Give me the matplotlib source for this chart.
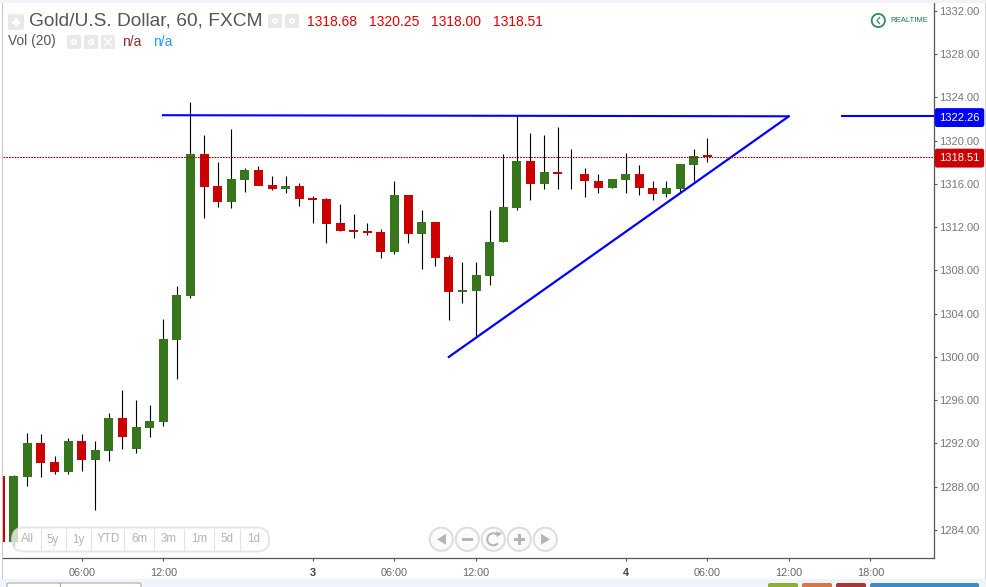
"""Gold/USD hourly candles with a hand drawn ascending triangle."""

import matplotlib
matplotlib.use("Agg")
import matplotlib.pyplot as plt
import numpy as np
from matplotlib.patches import Arc, Circle, FancyBboxPatch, Polygon, Rectangle

plt.rcParams["font.family"] = ["Liberation Sans", "DejaVu Sans"]

# candle index starts at -1, the half hidden candle on the left edge
opens = [1288.98, 1282.88, 1288.89, 1292.04, 1290.28, 1289.35, 1292.22, 1290.46, 1291.30, 1294.35,
         1291.48, 1293.42, 1293.98, 1301.57, 1305.64, 1318.77, 1315.81, 1314.33, 1316.37, 1317.29,
         1315.90, 1315.53, 1315.81, 1314.73, 1314.61, 1312.39, 1311.74, 1311.65, 1311.56, 1309.71,
         1314.98, 1311.37, 1312.48, 1309.24, 1306.01, 1306.10, 1307.49, 1310.63, 1313.78, 1318.12,
         1316.00, 1317.11, 1316.83, 1316.92, 1316.27, 1315.63, 1316.37, 1316.92, 1315.63, 1315.07,
         1315.53, 1317.75, 1318.68]
highs = [1289.10, 1289.08, 1292.96, 1292.87, 1290.83, 1292.50, 1292.87, 1292.22, 1294.81, 1296.94,
         1296.02, 1295.55, 1303.51, 1306.56, 1323.58, 1320.53, 1318.03, 1321.08, 1317.48, 1317.66,
         1316.74, 1316.74, 1316.09, 1314.89, 1314.70, 1314.15, 1313.22, 1312.39, 1311.80, 1316.27,
         1314.98, 1313.59, 1312.48, 1309.43, 1308.78, 1308.78, 1313.59, 1318.77, 1322.29, 1320.71,
         1320.53, 1321.27, 1319.23, 1317.48, 1316.92, 1316.46, 1318.86, 1317.75, 1316.27, 1316.27,
         1317.85, 1319.23, 1320.25]
lows = [1282.88, 1282.51, 1288.06, 1288.89, 1289.17, 1289.17, 1289.45, 1285.84, 1290.37, 1291.48,
        1291.11, 1292.59, 1293.61, 1297.96, 1305.45, 1312.85, 1313.87, 1313.78, 1315.26, 1315.90,
        1315.44, 1315.16, 1313.96, 1312.39, 1310.54, 1311.65, 1311.00, 1311.28, 1309.15, 1309.52,
        1310.54, 1308.13, 1308.41, 1303.42, 1304.99, 1301.84, 1306.65, 1310.63, 1313.59, 1314.52,
        1315.53, 1315.53, 1315.53, 1314.79, 1315.16, 1315.63, 1315.16, 1314.98, 1314.52, 1314.79,
        1315.26, 1316.27, 1318.00]
closes = [1282.88, 1288.98, 1292.04, 1290.19, 1289.35, 1292.22, 1290.46, 1291.39, 1294.35, 1292.59,
          1293.52, 1294.07, 1301.66, 1305.73, 1318.77, 1315.72, 1314.33, 1316.46, 1317.29, 1315.81,
          1315.53, 1315.81, 1314.61, 1314.52, 1312.30, 1311.65, 1311.56, 1311.46, 1309.71, 1314.98,
          1311.37, 1312.48, 1309.15, 1306.01, 1306.19, 1307.58, 1310.63, 1313.87, 1318.12, 1316.00,
          1317.11, 1316.92, 1316.83, 1316.27, 1315.63, 1316.46, 1316.92, 1315.63, 1315.07, 1315.63,
          1317.85, 1318.59, 1318.51]

price_ticks = [1284, 1288, 1292, 1296, 1300, 1304, 1308, 1312, 1316, 1320, 1324, 1328, 1332]
time_ticks = [5, 11, 22, 28, 34, 45, 51, 57, 63]
time_labels = ["06:00", "12:00", "3", "06:00", "12:00", "4", "06:00", "12:00", "18:00"]
day_labels = ["3", "4"]

resistance_x = [10.9, 57]
resistance_y = [1322.36, 1322.26]
resistance_stub_x = [60.8, 68]
resistance_stub_y = [1322.26, 1322.26]
support_x = [32, 57]
support_y = [1300.0, 1322.26]
last_price = 1318.51
line_price = 1322.26

ohlc_labels = ["1318.68", "1320.25", "1318.00", "1318.51"]
ohlc_pos = [307, 369, 431, 493]
range_labels = ["All", "5y", "1y", "YTD", "6m", "3m", "1m", "5d", "1d"]
range_pos = [27, 53, 78, 108, 139, 169, 199, 227, 254]
range_seps = [40.7, 65.7, 90.7, 124.3, 154.3, 184.3, 214.3, 240.3]

GREEN = "#37761d"
RED = "#cc0000"
BLUE = "#0000ff"
GREY = "#666666"
PANEL = "#f0f3fa"

fig = plt.figure(figsize=(9.87, 5.87), dpi=100, facecolor="white")
ax = fig.add_axes([3 / 987, 1 - 558.3 / 587, 930.7 / 987, 555.3 / 587])
ax.set_xlim(-0.787, 67.65)
ax.set_ylim(1281.37, 1332.74)

# candles
x = np.arange(-1, len(opens) - 1)
o, h, l, c = map(np.array, (opens, highs, lows, closes))
colors = [GREEN if b >= a else RED for a, b in zip(o, c)]
ax.vlines(x, l, h, color="black", lw=0.8, zorder=2)
ax.bar(x, np.abs(c - o), bottom=np.minimum(o, c), width=0.66, color=colors, lw=0, zorder=3)

# drawn lines
ax.plot(resistance_x, resistance_y, color=BLUE, lw=1.5, zorder=4, solid_capstyle="butt")
ax.plot(resistance_stub_x, resistance_stub_y, color=BLUE, lw=1.5, zorder=4, solid_capstyle="butt")
ax.plot(support_x, support_y, color=BLUE, lw=1.6, zorder=4)
ax.axhline(last_price, color="#990000", lw=0.8, dashes=(1.5, 1), zorder=5)

for side in ("top", "left"):
    ax.spines[side].set_visible(False)
for side in ("right", "bottom"):
    ax.spines[side].set_color("#555555")
    ax.spines[side].set_linewidth(0.9)

ax.yaxis.tick_right()
ax.set_yticks(price_ticks)
ax.set_yticklabels([f"{p:.2f}" for p in price_ticks])
ax.set_xticks(time_ticks)
ax.set_xticklabels(time_labels)
ax.tick_params(axis="y", length=2.5, width=0.8, color="#555555", labelcolor="#777777",
               labelsize=8, pad=1.2)
ax.tick_params(axis="x", length=2.5, width=0.8, color="#555555", labelcolor=GREY,
               labelsize=7.8, pad=4.5)
for lab in ax.get_xticklabels():
    if lab.get_text() in day_labels:
        lab.set_fontweight("bold")
        lab.set_color("#444444")

# price flags on the axis
trans = ax.get_yaxis_transform()
for price, col in ((line_price, BLUE), (last_price, RED)):
    ax.text(1 + 5.6 / 930.7, price - 0.12, f"{price:.2f}", transform=trans, color="white",
            fontsize=8, va="center", ha="left", clip_on=False, zorder=8,
            bbox=dict(boxstyle="round,pad=0.4,rounding_size=0.2", fc=col, ec="none"))

# page furniture, in pixel coordinates
ui = fig.add_axes([0, 0, 1, 1], zorder=10)
ui.set_xlim(0, 987)
ui.set_ylim(587, 0)
ui.axis("off")
ui.patch.set_alpha(0)

ui.add_patch(Rectangle((0, 0), 987, 3, fc=PANEL, ec="none"))
ui.add_patch(Rectangle((0, 579), 987, 8, fc=PANEL, ec="none"))
ui.add_patch(Rectangle((1.5, 3), 1.2, 576, fc="#c4c4c4", ec="none"))
ui.add_patch(Rectangle((984.5, 3), 1.2, 576, fc="#d4d4d4", ec="none"))

for x0, x1, col in ((768, 798, "#8fb02f"), (802, 832, "#dc7444"), (836, 866, "#ab3535"), (870, 979, "#4089cf")):
    ui.add_patch(FancyBboxPatch((x0 + 1, 584), x1 - x0 - 2, 6, boxstyle="round,pad=1,rounding_size=2",
                                fc=col, ec="none", clip_on=True))
ui.add_patch(FancyBboxPatch((8, 584), 132, 6, boxstyle="round,pad=1,rounding_size=2",
                            fc="white", ec="#aaaaaa", lw=0.8))
ui.plot([60, 60], [583, 587], color="#aaaaaa", lw=0.8)


def icon_box(x0, y0, size=14):
    ui.add_patch(FancyBboxPatch((x0 + 1, y0 + 1), size - 2, size - 2, boxstyle="round,pad=1,rounding_size=2",
                                fc="#e9e9e9", ec="none"))


# header
icon_box(8, 14, 16)
ui.add_patch(Rectangle((12, 20.5), 8, 3, fc="white", ec="none"))
ui.add_patch(Rectangle((14.5, 18), 3, 8, fc="white", ec="none"))
ui.text(29, 21.5, "Gold/U.S. Dollar, 60, FXCM", color="#555555", fontsize=13.75, va="center", ha="left")
for px in (268, 285):
    icon_box(px, 14)
    ui.add_patch(Circle((px + 7, 21), 3, fc="white", ec="none"))
    ui.add_patch(Circle((px + 7, 21), 1.2, fc="#e9e9e9", ec="none"))
for px, txt in zip(ohlc_pos, ohlc_labels):
    ui.text(px, 22.5, txt, color="#dd0000", fontsize=10, va="center", ha="left")

ui.text(8, 41.5, "Vol (20)", color="#555555", fontsize=9.9, va="center", ha="left")
for px in (67, 84):
    icon_box(px, 35)
    ui.add_patch(Circle((px + 7, 42), 3, fc="white", ec="none"))
    ui.add_patch(Circle((px + 7, 42), 1.2, fc="#e9e9e9", ec="none"))
icon_box(101, 35)
ui.plot([104.5, 111.5], [38.5, 45.5], color="white", lw=1.2)
ui.plot([104.5, 111.5], [45.5, 38.5], color="white", lw=1.2)
ui.text(122, 42, "n/a", color="#8b2b2b", fontsize=9.9, va="center", ha="left")
ui.text(153, 42, "n/a", color="#2196f3", fontsize=9.9, va="center", ha="left")

# realtime badge
ui.add_patch(Circle((878.3, 20.5), 6.6, fc="white", ec="#2e8b57", lw=1.3))
ui.plot([879.5, 877, 879.5], [17.5, 20.5, 23.5], color="#2e8b57", lw=0.9)
ui.text(890.5, 21, "REALTIME", color="#1f7a4d", fontsize=5.6, va="center", ha="left")

# range selector pill
ui.add_patch(FancyBboxPatch((12, 527.5), 257, 24, boxstyle="round,pad=0,rounding_size=12",
                            fc="white", ec="#dddddd", lw=1.4, alpha=0.75))
for px in range_seps:
    ui.plot([px, px], [528.5, 551], color="#e4e4e4", lw=0.8)
for px, txt in zip(range_pos, range_labels):
    ui.text(px, 539.5, txt, color="#b4b4b4", fontsize=8.4, va="center", ha="center")

# navigation buttons
NAV_Y = 539.3
for px in (441.3, 467.3, 493.3, 519.3, 545.3):
    ui.add_patch(Circle((px, NAV_Y), 11.6, fc="#fbfbfb", ec="#dcdcdc", lw=1.4))
ICON = "#b5b5b5"
ui.add_patch(Polygon([[446, NAV_Y - 5.5], [446, NAV_Y + 5.5], [437, NAV_Y]], fc=ICON, ec="none"))
ui.add_patch(Rectangle((461.5, NAV_Y - 1.5), 11.5, 3, fc=ICON, ec="none"))
ui.add_patch(Arc((493.3, NAV_Y), 12, 12, theta1=40, theta2=320, ec=ICON, lw=1.5))
ui.add_patch(Polygon([[496, NAV_Y - 8], [502, NAV_Y - 6], [497, NAV_Y - 2]], fc=ICON, ec="none"))
ui.add_patch(Rectangle((513.5, NAV_Y - 1.5), 11.5, 3, fc=ICON, ec="none"))
ui.add_patch(Rectangle((517.8, NAV_Y - 5.7), 3, 11.5, fc=ICON, ec="none"))
ui.add_patch(Polygon([[541, NAV_Y - 5.5], [541, NAV_Y + 5.5], [550, NAV_Y]], fc=ICON, ec="none"))

fig.savefig("out.png", dpi=100, facecolor="white")
